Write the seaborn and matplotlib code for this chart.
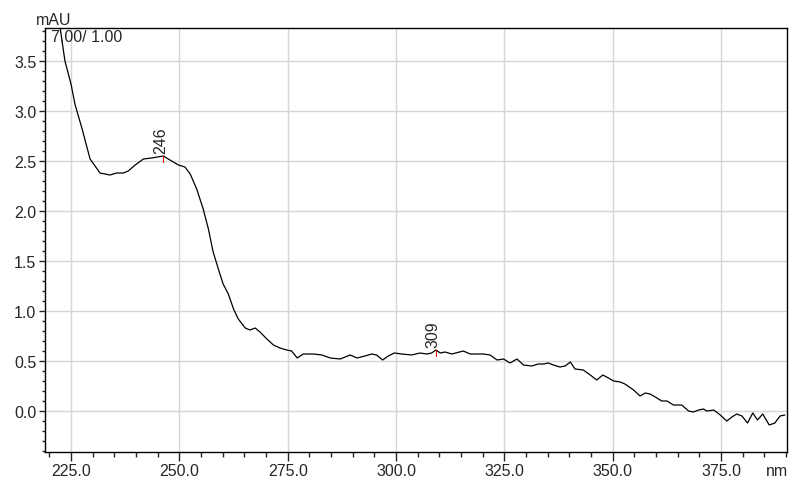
import seaborn as sns
import matplotlib.pyplot as plt
from matplotlib.ticker import MultipleLocator, FormatStrFormatter
import pandas as pd

# spectrum (wavelength nm, absorbance mAU)
wavelength = [222.5, 223.6, 225.0, 225.9, 227.5, 229.4, 231.7, 234.0, 235.5, 237.1,
              238.2, 239.8, 241.7, 243.6, 246.3, 248.6, 249.8, 251.3, 252.5, 254.0,
              255.5, 256.7, 257.8, 259.0, 260.1, 261.3, 262.5, 263.6, 265.2, 266.3,
              267.5, 268.6, 270.2, 271.7, 273.2, 274.8, 275.9, 277.2, 278.6, 280.9,
              282.9, 284.8, 287.1, 289.4, 291.0, 292.8, 294.4, 295.5, 296.9, 298.2,
              299.6, 301.3, 303.6, 305.5, 307.1, 308.2, 309.2, 310.2, 311.3, 312.9,
              315.5, 317.1, 320.2, 321.7, 323.3, 324.8, 326.3, 327.9, 329.4, 331.3,
              332.8, 334.0, 335.1, 336.3, 337.8, 339.0, 340.2, 341.3, 343.2, 344.8,
              346.3, 347.7, 349.0, 350.2, 351.7, 352.8, 354.8, 356.3, 357.5, 358.6,
              359.8, 361.3, 362.5, 364.0, 365.9, 367.5, 368.6, 369.8, 370.9, 371.7,
              373.3, 374.8, 376.3, 377.5, 378.6, 379.8, 381.1, 382.3, 383.4, 384.6,
              386.1, 387.4, 388.6, 389.7]
absorbance = [3.83, 3.50, 3.27, 3.07, 2.83, 2.52, 2.38, 2.36, 2.38, 2.38,
              2.40, 2.46, 2.52, 2.53, 2.55, 2.49, 2.46, 2.44, 2.37, 2.22,
              2.02, 1.82, 1.59, 1.42, 1.27, 1.17, 1.02, 0.92, 0.83, 0.81,
              0.83, 0.79, 0.72, 0.66, 0.63, 0.61, 0.60, 0.53, 0.57, 0.57,
              0.56, 0.53, 0.52, 0.56, 0.53, 0.55, 0.57, 0.56, 0.51, 0.55,
              0.58, 0.57, 0.56, 0.58, 0.57, 0.58, 0.61, 0.58, 0.59, 0.57,
              0.60, 0.57, 0.57, 0.56, 0.51, 0.52, 0.48, 0.52, 0.46, 0.45,
              0.47, 0.47, 0.48, 0.46, 0.44, 0.45, 0.49, 0.42, 0.41, 0.36,
              0.31, 0.36, 0.33, 0.30, 0.29, 0.27, 0.21, 0.15, 0.18, 0.17,
              0.14, 0.10, 0.10, 0.06, 0.06, 0.00, -0.01, 0.01, 0.02, 0.00,
              0.01, -0.04, -0.10, -0.06, -0.03, -0.05, -0.12, -0.02, -0.09, -0.03,
              -0.14, -0.12, -0.05, -0.04]

peak_nm = [246.3, 309.2]
peak_val = [2.55, 0.61]
peak_labels = ["246", "309"]

df = pd.DataFrame({"nm": wavelength, "mAU": absorbance})

sns.set_style("white")
plt.rcParams['font.family'] = ['Liberation Sans', 'DejaVu Sans']
fs = 11.5

fig = plt.figure(figsize=(7.91, 4.81), dpi=100)
ax = fig.add_axes([45 / 791, 28 / 481, 742 / 791, 424 / 481])

sns.lineplot(data=df, x="nm", y="mAU", ax=ax, color="black", lw=0.9)

ax.set_xlim(219.0, 390.2)
ax.set_ylim(-0.41, 3.83)
ax.xaxis.set_major_locator(MultipleLocator(25))
ax.xaxis.set_minor_locator(MultipleLocator(5))
ax.yaxis.set_major_locator(MultipleLocator(0.5))
ax.yaxis.set_minor_locator(MultipleLocator(0.1))
ax.xaxis.set_major_formatter(FormatStrFormatter("%.1f"))
ax.yaxis.set_major_formatter(FormatStrFormatter("%.1f"))
ax.grid(True, which="major", color="#d6d6d6", lw=1)
ax.set_axisbelow(True)
ax.tick_params(axis="x", which="major", direction="out", length=6.5, width=1,
               labelsize=fs, pad=1.5, bottom=True)
ax.tick_params(axis="x", which="minor", direction="out", length=3.4, width=1, bottom=True)
ax.tick_params(axis="y", which="major", direction="out", length=4.3, width=1,
               labelsize=fs, pad=2, left=True)
ax.tick_params(axis="y", which="minor", direction="out", length=2.4, width=1, left=True)
for s in ax.spines.values():
    s.set_color("black")
    s.set_linewidth(1)
ax.set_xlabel("")
ax.set_ylabel("")

# peak markers
for x, y, lab in zip(peak_nm, peak_val, peak_labels):
    ax.plot([x, x], [y, y - 0.06], color="red", lw=0.8)
    ax.annotate(lab, (x, y), xytext=(-2, 2), textcoords="offset points",
                rotation=90, ha="center", va="bottom", fontsize=fs)

fig.text(54 / 791, 1 - 25 / 481, "mAU", ha="center", va="baseline", fontsize=fs)
ax.text(0.008, 0.998, "7.00/ 1.00", transform=ax.transAxes, ha="left", va="top", fontsize=fs)
fig.text(777 / 791, 1 - 476 / 481, "nm", ha="center", va="baseline", fontsize=fs)

fig.savefig("out.png", dpi=100)
